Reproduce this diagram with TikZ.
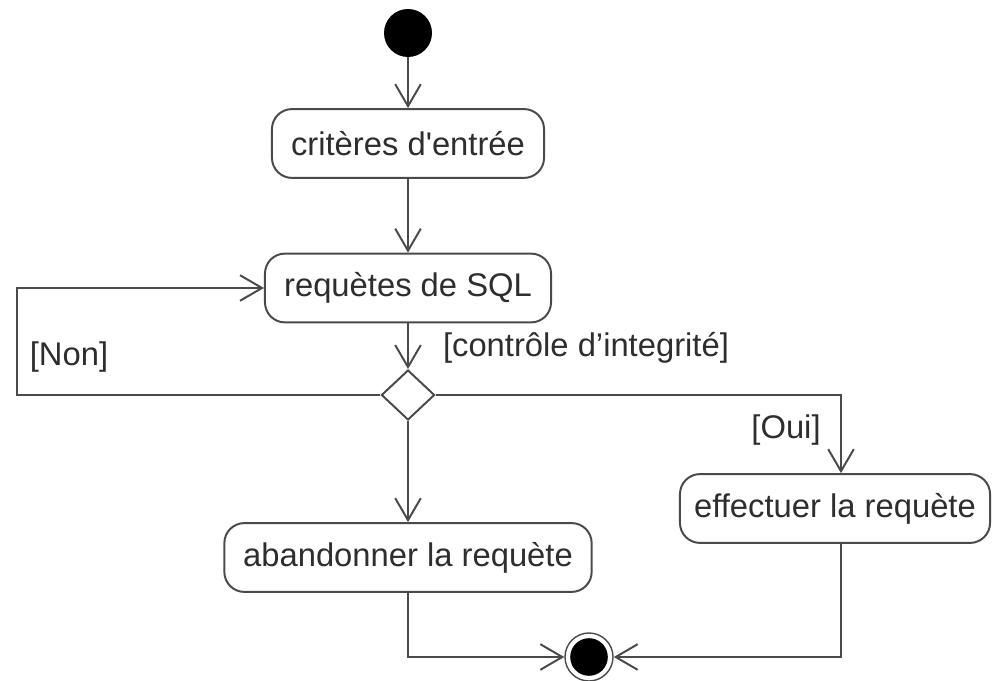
\documentclass[tikz,border=0pt]{standalone}
\usepackage{fontspec}
\setmainfont{Liberation Sans}
\usepackage{xcolor}
\usetikzlibrary{shapes.geometric}
\usetikzlibrary{arrows.meta}
\definecolor{lineg}{HTML}{4A4A4A}
\definecolor{textg}{HTML}{2E2E2E}

\begin{document}
\begin{tikzpicture}[x=0.025cm, y=-0.025cm]
        % ================= styles =================
        \tikzset{
            % action: rounded box
            act/.style={rectangle, rounded corners=0.5cm, draw=lineg, line width=1.4pt, fill=white, minimum height=1.72cm, inner sep=0pt, text=textg, font=\fontsize{23.3}{28}\selectfont},
            % decision diamond
            decnode/.style={diamond, draw=lineg, line width=1.4pt, fill=white, minimum width=1.33cm, minimum height=1.25cm, inner sep=0pt},
            % guard labels
            guard/.style={text=textg, inner sep=0pt, font=\fontsize{23.3}{28}\selectfont},
            % flow connectors with open arrow
            flow/.style={draw=lineg, line width=1.4pt, -{Straight Barb[length=0.55cm, width=0.64cm]}}
        }
        \useasboundingbox (0,0) rectangle (992,681);

        % ================= nodes =================
        \node[circle, fill=black, minimum size=1.2cm, inner sep=0pt] (start) at (408,33) {};
        \node[act, minimum width=6.8cm] (crit) at (408,143.5) {critères d\textquotesingle entrée};
        \node[act, minimum width=7.15cm] (req) at (408,288) {requètes de SQL};
        \node[decnode] (dec) at (408,395) {};
        \node[act, minimum width=9.18cm] (aband) at (408,557.5) {abandonner la requète};
        \node[act, minimum width=7.75cm] (eff) at (835,508.5) {effectuer la requète};
        \node[circle, draw=lineg, line width=1pt, fill=white, minimum size=1.2cm, inner sep=0pt,
              path picture={\fill[black] (path picture bounding box.center) circle (0.47cm);}] (fin) at (589,657) {};

        % corners of the two side branches
        \coordinate (nonpt) at (17,0);
        \coordinate (ouipt) at (841,0);

        % ================= connectors =================
        \draw[flow] (start) -- (start |- crit.north);
        \draw[flow] (crit) -- (req);
        \draw[flow] (req) -- (dec.north);
        \draw[flow] (dec.west) -- (dec.west -| nonpt) |- (req.west);
        \draw[flow] (dec.east) -| (ouipt |- eff.north);
        \draw[flow] (dec.south) -- (aband.north);
        \draw[flow] (aband.south) |- (fin.west);
        \draw[flow] (eff.south -| ouipt) |- (fin.east);

        % ================= guards =================
        \node[guard] (g_non) at (69,357) {[Non]};
        \node[guard] (g_ctrl) at (586,348) {[contrôle d’integrité]};
        \node[guard] (g_oui) at (786,430) {[Oui]};

    \end{tikzpicture}
\end{document}
